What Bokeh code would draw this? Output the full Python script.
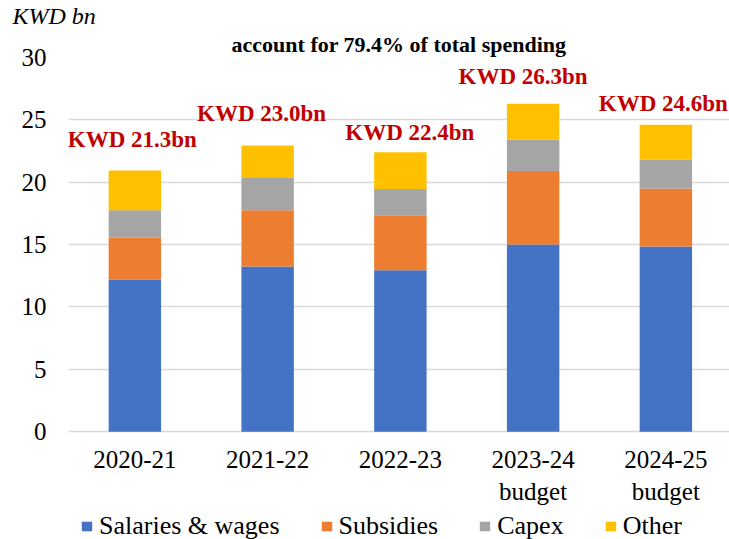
from bokeh.plotting import figure
from bokeh.models import ColumnDataSource, Range1d, Legend, LegendItem, FixedTicker, LabelSet, Title
from bokeh.embed import file_html
from bokeh.resources import INLINE
from bokeh.core.properties import value

# ---------------- data ----------------
years = ["2020-21", "2021-22", "2022-23", "2023-24\nbudget", "2024-25\nbudget"]
salaries = [12.2, 13.25, 12.95, 15.0, 14.85]
subsidies = [3.35, 4.5, 4.4, 5.9, 4.65]
capex = [2.2, 2.6, 2.1, 2.5, 2.3]
other = [3.2, 2.6, 2.95, 2.9, 2.8]
series_names = ["Salaries & wages", "Subsidies", "Capex", "Other"]
total_labels = ["KWD 21.3bn", "KWD 23.0bn", "KWD 22.4bn", "KWD 26.3bn", "KWD 24.6bn"]
y_ticks = [0, 5, 10, 15, 20, 25, 30]
title_text = "account for 79.4% of total spending"
unit_text = "KWD bn"

# ---------------- layout / style ----------------
colors = ["#4472C4", "#ED7D31", "#A5A5A5", "#FFC000"]
W, H = 729, 539
B_LEFT, B_RIGHT, B_TOP, B_BOTTOM = 68, 0, 56, 0
CAT_PX = 132.75
PX_PER_UNIT = 12.5
frame_w = W - B_LEFT - B_RIGHT
frame_h = H - B_TOP - B_BOTTOM
x_start = -0.5
x_end = x_start + frame_w / CAT_PX
y_max = 30.0
y_min = y_max - frame_h / PX_PER_UNIT   # room below the baseline for labels and legend

FONT = "Liberation Serif"
label_dx_px = [-2.5, -6, 9.5, -10, -2.5]
label_dy = [2.5, 2.6, 1.6, 2.2, 1.7]

xs = list(range(len(years)))
keys = ["salaries", "subsidies", "capex", "other"]
source = ColumnDataSource(dict(x=xs, salaries=salaries, subsidies=subsidies,
                               capex=capex, other=other))

totals = [a + b + c + d for a, b, c, d in zip(salaries, subsidies, capex, other)]
lab_src = ColumnDataSource(dict(
    x=[i + dx / CAT_PX for i, dx in zip(xs, label_dx_px)],
    y=[t + dy for t, dy in zip(totals, label_dy)],
    text=total_labels))

p = figure(width=W, height=H, output_backend="svg", toolbar_location=None,
           x_range=Range1d(x_start, x_end), y_range=Range1d(y_min, y_max),
           min_border_left=B_LEFT, min_border_right=B_RIGHT,
           min_border_top=B_TOP, min_border_bottom=B_BOTTOM)
p.outline_line_color = None

# unit label (outermost) and headline title (nearest the frame)
p.title = Title(text=unit_text, align="left", offset=-56, standoff=0,
                text_font=FONT, text_font_size="24px", text_font_style="italic",
                text_color="black")
p.add_layout(Title(text=title_text, align="center", standoff=2,
                   text_font=FONT, text_font_size="22px", text_font_style="bold",
                   text_color="black"), "above")

renderers = p.vbar_stack(keys, x="x", width=0.395, color=colors, source=source,
                         line_color=None)

p.yaxis.ticker = FixedTicker(ticks=y_ticks)
p.yaxis.axis_line_color = None
p.yaxis.major_tick_line_color = None
p.yaxis.minor_tick_line_color = None
p.yaxis.major_tick_out = 0
p.yaxis.major_tick_in = 0
p.yaxis.major_label_standoff = 22
p.yaxis.major_label_text_font = FONT
p.yaxis.major_label_text_font_size = "25px"
p.yaxis.major_label_text_color = "black"

p.xaxis.fixed_location = 0
p.xaxis.ticker = FixedTicker(ticks=xs)
p.xaxis.major_label_overrides = {i: years[i] for i in xs}
p.xaxis.axis_line_color = None
p.xaxis.major_tick_line_color = None
p.xaxis.minor_tick_line_color = None
p.xaxis.major_tick_out = 0
p.xaxis.major_tick_in = 0
p.xaxis.major_label_standoff = 14
p.xaxis.major_label_text_font = FONT
p.xaxis.major_label_text_font_size = "25px"
p.xaxis.major_label_text_color = "black"

p.xgrid.visible = False
p.ygrid.grid_line_color = "#d9d9d9"
p.ygrid.grid_line_width = 1.5

p.add_layout(LabelSet(x="x", y="y", text="text", source=lab_src,
                      text_font=value(FONT), text_font_size="23px",
                      text_font_style="bold", text_color="#C00000",
                      text_align="center", text_baseline="middle"))

legend = Legend(items=[LegendItem(label=n, renderers=[r]) for n, r in zip(series_names, renderers)],
                orientation="horizontal", location=(12, -2),
                label_text_font=FONT, label_text_font_size="26px",
                label_text_color="black",
                glyph_width=13, glyph_height=12, label_standoff=6, spacing=40,
                padding=0, margin=0, border_line_color=None,
                background_fill_alpha=0)
p.add_layout(legend, "center")

open("out.html", "w").write(file_html(p, INLINE))
